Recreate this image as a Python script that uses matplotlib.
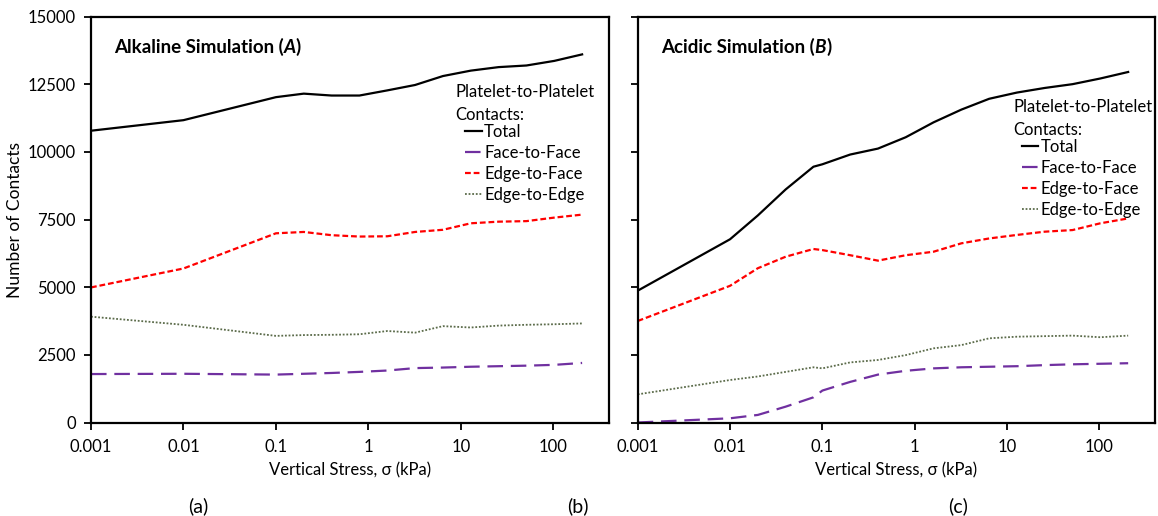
import matplotlib
matplotlib.use("Agg")
import matplotlib.pyplot as plt
from matplotlib.lines import Line2D

plt.rcParams['font.family'] = ['Lato', 'DejaVu Sans']

# ---------------- data ----------------
x_alk = [0.001, 0.01, 0.1, 0.2, 0.4, 0.8, 1.6, 3.2, 6.4, 12.8, 25.6, 51.2, 102.4, 204.8]
alk_total = [10780, 11170, 12020, 12150, 12080, 12080, 12270, 12470, 12800, 13000, 13130, 13190, 13360, 13600]
alk_face_face = [1790, 1800, 1770, 1800, 1830, 1870, 1920, 2010, 2030, 2060, 2080, 2100, 2130, 2200]
alk_edge_face = [4990, 5690, 6990, 7040, 6920, 6870, 6880, 7040, 7120, 7360, 7420, 7440, 7570, 7680]
alk_edge_edge = [3910, 3610, 3200, 3230, 3240, 3260, 3380, 3320, 3560, 3510, 3580, 3610, 3630, 3660]

x_acid = [0.001, 0.01, 0.02, 0.04, 0.08, 0.1, 0.2, 0.4, 0.8, 1.6, 3.2, 6.4, 12.8, 25.6, 51.2, 102.4, 204.8]
acid_total = [4870, 6770, 7650, 8610, 9450, 9540, 9900, 10120, 10540, 11090, 11560, 11960, 12190, 12360, 12500, 12710, 12950]
acid_face_face = [0, 155, 280, 585, 930, 1180, 1500, 1770, 1910, 2000, 2040, 2060, 2080, 2120, 2150, 2170, 2190]
acid_edge_face = [3750, 5050, 5700, 6125, 6410, 6370, 6180, 5980, 6180, 6310, 6620, 6800, 6930, 7050, 7110, 7360, 7540]
acid_edge_edge = [1040, 1570, 1700, 1870, 2040, 2000, 2220, 2310, 2490, 2740, 2860, 3110, 3170, 3190, 3210, 3150, 3210]

xticks = [0.001, 0.01, 0.1, 1, 10, 100]
xticklabels = ["0.001", "0.01", "0.1", "1", "10", "100"]
yticks = [0, 2500, 5000, 7500, 10000, 12500, 15000]

series_labels = ["Total", "Face-to-Face", "Edge-to-Face", "Edge-to-Edge"]

# ---------------- styles ----------------
styles = [
    dict(color="black", lw=1.6, ls="-"),
    dict(color="#7030A0", lw=1.6, ls=(0, (7, 3.5))),
    dict(color="#FF0000", lw=1.6, ls=(0, (2.6, 1.3))),
    dict(color="#5B6B4A", lw=1.3, ls=(0, (1, 1))),
]

W, H = 1158, 516
fig = plt.figure(figsize=(W / 100, H / 100), dpi=100)

def px_axes(x0, x1, ytop, ybot):
    return fig.add_axes([x0 / W, 1 - ybot / H, (x1 - x0) / W, (ybot - ytop) / H])

ax1 = px_axes(91, 609, 16.5, 422.5)
ax2 = px_axes(637.7, 1155, 16.5, 422.5)

FS = 12

def draw(ax, x, ys, show_ylabels):
    for y, st in zip(ys, styles):
        ax.plot(x, y, **st)
    ax.set_xscale("log")
    ax.set_xlim(0.001, 400)
    ax.set_ylim(0, 15000)
    ax.set_xticks(xticks)
    ax.set_xticklabels(xticklabels)
    ax.xaxis.set_minor_locator(matplotlib.ticker.NullLocator())
    ax.set_yticks(yticks)
    if show_ylabels:
        ax.set_yticklabels([str(v) for v in yticks])
    else:
        ax.set_yticklabels([])
    ax.tick_params(axis="both", direction="out", length=5, width=1.3, labelsize=FS, pad=7)
    ax.tick_params(axis="y", pad=6)
    for sp in ax.spines.values():
        sp.set_linewidth(1.6)

draw(ax1, x_alk, [alk_total, alk_face_face, alk_edge_face, alk_edge_edge], True)
draw(ax2, x_acid, [acid_total, acid_face_face, acid_edge_face, acid_edge_edge], False)

TFS = 13.5

def title(ax, x, y, main, letter):
    t1 = ax.text(x, y, main + " (", transform=ax.transAxes, fontsize=TFS,
                 fontweight="bold", va="center", ha="left")
    t2 = ax.annotate(letter, xy=(1, 0), xycoords=t1, fontsize=TFS, fontweight="bold",
                     fontstyle="italic", va="bottom", ha="left")
    ax.annotate(")", xy=(1, 0), xycoords=t2, fontsize=TFS, fontweight="bold",
                va="bottom", ha="left")

title(ax1, 0.044, 0.926, "Alkaline Simulation", "A")
title(ax2, 0.045, 0.926, "Acidic Simulation", "B")

handles = [Line2D([], [], **st) for st in styles]

def legend(ax, tx, ty, lx, ly):
    ax.text(tx, ty, "Platelet-to-Platelet\nContacts:", transform=ax.transAxes,
            fontsize=FS, va="top", ha="left", linespacing=1.55)
    ax.legend(handles, series_labels, loc="upper left", bbox_to_anchor=(lx, ly),
              frameon=False, fontsize=FS, handlelength=1.0, handletextpad=0.15,
              labelspacing=0.3, borderpad=0, borderaxespad=0)

legend(ax1, 0.703, 0.834, 0.722, 0.735)
legend(ax2, 0.726, 0.797, 0.742, 0.698)

fig.text(15 / W, 1 - 219.5 / H, "Number of Contacts", rotation=90, fontsize=12.5,
         va="center", ha="center")
fig.text(350 / W, 1 - 470 / H, "Vertical Stress, σ (kPa)", fontsize=FS, va="center", ha="center")
fig.text(896 / W, 1 - 470 / H, "Vertical Stress, σ (kPa)", fontsize=FS, va="center", ha="center")
for lab, xp in [("(a)", 198), ("(b)", 578), ("(c)", 958)]:
    fig.text(xp / W, 1 - 506 / H, lab, fontsize=14, va="center", ha="center")

fig.savefig("out.png", dpi=100)
